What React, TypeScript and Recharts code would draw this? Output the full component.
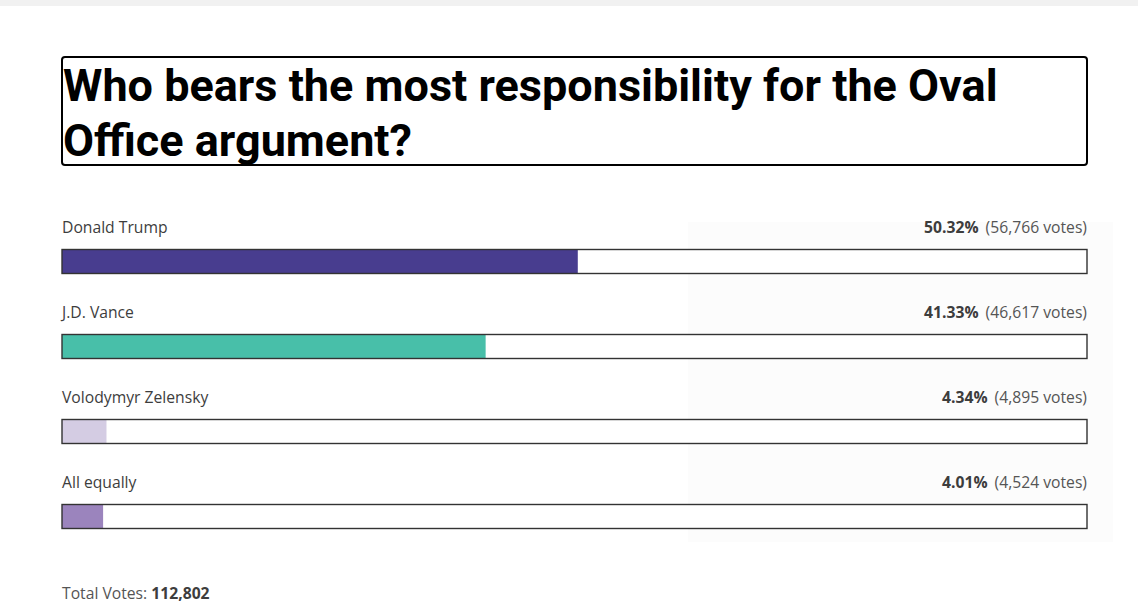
import React from 'react';
import { BarChart, Bar, XAxis, YAxis } from 'recharts';

const title = 'Who bears the most responsibility for the Oval Office argument?';
const categories = ['Donald Trump', 'J.D. Vance', 'Volodymyr Zelensky', 'All equally'];
const percents = [50.32, 41.33, 4.34, 4.01];
const votes = [56766, 46617, 4895, 4524];
const colors = ['#483d8f', '#48bfa9', '#d4cce3', '#9b84bd'];
const totalVotes = 112802;

const data = categories.map((name, i) => ({
  name,
  pct: percents[i],
  votes: votes[i],
  color: colors[i],
}));

const fmt = (n: number) => n.toLocaleString('en-US');

const LABEL_FONT = '"Open Sans", "Noto Sans", sans-serif';

const PollBar = (props: any) => {
  const { x, y, width, height, background, payload } = props;
  const bg = background || { x: 62, y, width: 1025, height };
  return (
    <g>
      <rect x={x} y={y} width={Math.max(0, width)} height={height} fill={payload.color} />
      <rect x={bg.x} y={bg.y} width={bg.width} height={bg.height} fill="none" stroke="#333" strokeWidth={1.4} />
      <text x={bg.x} y={bg.y - 17} fontFamily={LABEL_FONT} fontSize={15.7} fontWeight={500} fill="#3d3d3d">
        {payload.name}
      </text>
      <text x={bg.x + bg.width} y={bg.y - 17} textAnchor="end" fontFamily={LABEL_FONT} fontSize={15.7}>
        <tspan fontWeight={700} fill="#3d3d3d">{payload.pct.toFixed(2)}%</tspan>
        <tspan dx={7} fill="#555">({fmt(payload.votes)} votes)</tspan>
      </text>
    </g>
  );
};

export default function App() {
  return (
    <div style={{ position: 'absolute', left: 0, top: 0, width: 1138, height: 611, background: '#fff', overflow: 'hidden' }}>
      <div style={{ position: 'absolute', left: 0, top: 0, width: 1138, height: 6, background: '#f1f1f1' }} />
      <div style={{ position: 'absolute', left: 688, top: 222, width: 425, height: 320, background: '#fcfcfc' }} />
      <div
        style={{
          position: 'absolute',
          left: 61,
          top: 56,
          width: 1023,
          height: 106,
          border: '2px solid #000',
          borderRadius: 4,
        }}
      />
      <div
        style={{
          position: 'absolute',
          left: 63,
          top: 58,
          width: 1020,
          fontFamily: 'Roboto, sans-serif',
          fontWeight: 700,
          fontSize: 45,
          lineHeight: '55px',
          color: '#000',
        }}
      >
        {title}
      </div>
      <div style={{ position: 'absolute', left: 0, top: 0 }}>
        <BarChart
          width={1138}
          height={611}
          data={data}
          layout="vertical"
          margin={{ top: 218.5, bottom: 52.5, left: 62, right: 51 }}
        >
          <XAxis type="number" domain={[0, 100]} hide />
          <YAxis type="category" dataKey="name" hide />
          <Bar dataKey="pct" barSize={24} isAnimationActive={false} background={{ fill: '#fff' }} shape={PollBar} />
        </BarChart>
      </div>
      <div
        style={{
          position: 'absolute',
          left: 62,
          top: 583,
          fontFamily: LABEL_FONT,
          fontSize: 15.7,
          color: '#555',
          lineHeight: '20px',
        }}
      >
        Total Votes: <b style={{ color: '#3d3d3d' }}>{fmt(totalVotes)}</b>
      </div>
    </div>
  );
}
